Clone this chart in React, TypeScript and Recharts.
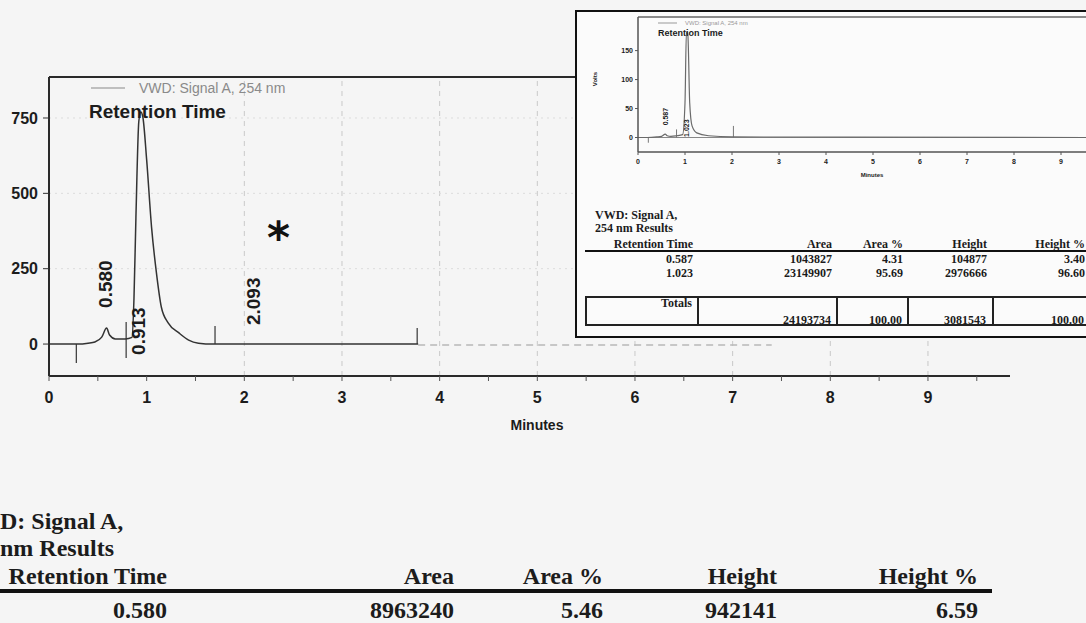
import React from "react";
import { ComposedChart, Line, Scatter, XAxis, YAxis, ReferenceLine } from "recharts";

// main chromatogram (minutes / signal)
const mainTime = [0, 0.3, 0.4, 0.47, 0.54, 0.59, 0.62, 0.68, 0.78, 0.85, 0.87, 0.89, 0.92, 0.94, 0.96, 1.0, 1.05, 1.1, 1.15, 1.22, 1.33, 1.43, 1.53, 1.68, 3.78];
const mainSignal = [0, 0, 3, 7, 23, 53, 30, 17, 17, 22, 150, 420, 740, 770, 755, 611, 388, 236, 123, 70, 37, 13, 3, 0, 0];
const tailTime = [3.78, 7.4];
const tailSignal = [-3, -3];

const peakNames = ["0.580", "0.913", "2.093"];
const peakLabelLevel = [120, -36, 63];
const noteTime = [2.35];
const noteLevel = [385];
const noteText = ["*"];

const markerTime = [0.28, 0.79, 1.7, 3.77];
const markerFrom = [0, 73, 0, 0];
const markerTo = [-63, -46, 60, 53];

const mainYTicks = [0, 250, 500, 750];
const mainXTicks = [0, 0.5, 1, 1.5, 2, 2.5, 3, 3.5, 4, 4.5, 5, 5.5, 6, 6.5, 7, 7.5, 8, 8.5, 9, 9.5];
const gridMinutes = [2, 3, 4, 5, 6, 7, 8, 9];
const gridLevels = [250, 500, 750];
const MAIN_X = [0, 9.84];
const MAIN_Y = [-106, 886];

// inset chromatogram
const insetTime = [0, 0.2, 0.4, 0.5, 0.58, 0.62, 0.7, 0.82, 0.95, 1.0, 1.03, 1.06, 1.1, 1.15, 1.25, 1.5, 2.0, 10];
const insetSignal = [0, 0, 1, 2, 6, 3, 2, 3, 5, 60, 182, 178, 60, 20, 8, 3, 1, 0];
const insetPeakNames = ["0.587", "1.023"];
const insetPeakLevel = [21, 1];
const insetMarkerTime = [0.22, 0.82, 2.03];
const insetMarkerTo = [-9, 14, 20];
const insetYTicks = [0, 50, 100, 150];
const insetXTicks = [0, 1, 2, 3, 4, 5, 6, 7, 8, 9];
const INSET_X = [0, 10];
const INSET_Y = [-25, 208];

// result tables
const resultHeaders = ["Retention Time", "Area", "Area %", "Height", "Height %"];
const mainRow = ["0.580", "8963240", "5.46", "942141", "6.59"];
const insetRows = [
  ["0.587", "1043827", "4.31", "104877", "3.40"],
  ["1.023", "23149907", "95.69", "2976666", "96.60"],
];
const insetTotals = ["24193734", "100.00", "3081543", "100.00"];

const mainData = mainTime.map((t, i) => ({ t, v: mainSignal[i] }));
const tailData = tailTime.map((t, i) => ({ t, v: tailSignal[i] }));
const peakData = peakNames.map((n, i) => ({ t: Number(n), v: peakLabelLevel[i], label: n }));
const noteData = noteTime.map((t, i) => ({ t, v: noteLevel[i], label: noteText[i] }));
const insetData = insetTime.map((t, i) => ({ t, v: insetSignal[i] }));
const insetPeakData = insetPeakNames.map((n, i) => ({ t: Number(n), v: insetPeakLevel[i], label: n }));

const SANS = "'Liberation Sans', Arial, sans-serif";
const SERIF = "'Liberation Serif', 'Times New Roman', serif";
const INK = "#1c1c1c";

const rotatedLabel = (size: number) => (props: any) => {
  const { cx, cy, payload } = props;
  return (
    <text x={cx} y={cy} dy="0.36em" transform={`rotate(-90 ${cx} ${cy})`} fontSize={size}
      fontWeight="bold" fontFamily={SANS} fill={INK}>
      {payload.label}
    </text>
  );
};

const noteShape = (props: any) => {
  const { cx, cy, payload } = props;
  return (
    <text x={cx} y={cy} dy={25} textAnchor="middle" fontSize={44} fontWeight="bold"
      fontFamily="'DejaVu Sans', sans-serif" fill="#111">
      {payload.label}
    </text>
  );
};

const Txt = ({ x, y, size, text, right, bold = true, family = SERIF, color = INK, center }: any) => {
  const style: React.CSSProperties = {
    position: "absolute", top: y - size / 2, fontSize: size, lineHeight: `${size}px`,
    fontFamily: family, fontWeight: bold ? "bold" : "normal", color, whiteSpace: "nowrap",
  };
  if (right) {
    style.left = x - 300; style.width = 300; style.textAlign = "right";
  } else if (center) {
    style.left = x - 150; style.width = 300; style.textAlign = "center";
  } else {
    style.left = x;
  }
  return <div style={style}>{text}</div>;
};

const mainCols = [167, 454, 603, 777, 978];
const insetCols = [693, 832, 903, 987, 1085];

function MainChart() {
  return (
    <div style={{ position: "absolute", left: 0, top: 0 }}>
      <ComposedChart width={1086} height={440} margin={{ top: 77, right: 76, bottom: 0, left: 0 }}>
        {gridMinutes.map((m) => (
          <ReferenceLine key={"gx" + m} x={m} stroke="#c9c9c9" strokeDasharray="5 5" />
        ))}
        {gridLevels.map((l) => (
          <ReferenceLine key={"gy" + l} y={l} stroke="#dcdcdc" strokeDasharray="2 4" />
        ))}
        <XAxis type="number" dataKey="t" domain={MAIN_X} allowDataOverflow ticks={mainXTicks}
          tickFormatter={(v: number) => (Number.isInteger(v) ? String(v) : "")}
          height={64} tickSize={5} tickMargin={11} interval={0}
          axisLine={{ stroke: "#2a2a2a", strokeWidth: 2 }} tickLine={{ stroke: "#555" }}
          tick={{ fill: INK, fontSize: 16, fontWeight: "bold", fontFamily: SANS }} />
        <YAxis type="number" domain={MAIN_Y} allowDataOverflow ticks={mainYTicks} width={49}
          tickSize={6} tickMargin={5} interval={0}
          axisLine={{ stroke: "#2a2a2a", strokeWidth: 2 }} tickLine={{ stroke: "#333" }}
          tick={{ fill: INK, fontSize: 16, fontWeight: "bold", fontFamily: SANS }} />
        <ReferenceLine y={MAIN_Y[1]} stroke="#2a2a2a" strokeWidth={2} />
        {markerTime.map((m, i) => (
          <ReferenceLine key={"mk" + i} segment={[{ x: m, y: markerFrom[i] }, { x: m, y: markerTo[i] }]}
            stroke="#444" strokeWidth={1.3} />
        ))}
        <Line data={tailData} dataKey="v" type="linear" stroke="#b8b8b8" strokeWidth={1.5}
          strokeDasharray="7 5" dot={false} isAnimationActive={false} />
        <Line data={mainData} dataKey="v" type="monotone" stroke="#333" strokeWidth={1.5}
          dot={false} isAnimationActive={false} />
        <Scatter data={peakData} dataKey="v" shape={rotatedLabel(19)} isAnimationActive={false} />
        <Scatter data={noteData} dataKey="v" shape={noteShape} isAnimationActive={false} />
      </ComposedChart>
      <svg style={{ position: "absolute", left: 0, top: 0 }} width={140} height={100}>
        <line x1={91} y1={88} x2={125} y2={88} stroke="#8a8a8a" strokeWidth={1.2} />
      </svg>
      <Txt x={139} y={88} size={14} text="VWD: Signal A, 254 nm" bold={false} family={SANS} color="#8a8a8a" />
      <Txt x={89} y={111} size={19} text="Retention Time" family={SANS} />
      <Txt x={537} y={425} size={14} text="Minutes" family={SANS} center />
    </div>
  );
}

function Inset() {
  return (
    <>
      <div style={{
        position: "absolute", left: 575, top: 10, width: 540, height: 328,
        border: "2px solid #111", boxSizing: "border-box", background: "#fbfbfb",
      }} />
      <div style={{ position: "absolute", left: 577, top: 12 }}>
        <ComposedChart width={531} height={180} margin={{ top: 5, right: 0, bottom: 0, left: 0 }}>
          <XAxis type="number" dataKey="t" domain={INSET_X} allowDataOverflow ticks={insetXTicks}
            height={40} tickSize={3} tickMargin={4} interval={0}
            axisLine={{ stroke: "#555", strokeWidth: 1.5 }} tickLine={{ stroke: "#555" }}
            tick={{ fill: INK, fontSize: 7, fontWeight: "bold", fontFamily: SANS }} />
          <YAxis type="number" domain={INSET_Y} allowDataOverflow ticks={insetYTicks} width={61}
            tickSize={3} tickMargin={2} interval={0}
            axisLine={{ stroke: "#555", strokeWidth: 1.5 }} tickLine={{ stroke: "#555" }}
            tick={{ fill: INK, fontSize: 7, fontWeight: "bold", fontFamily: SANS }} />
          <ReferenceLine y={INSET_Y[1]} stroke="#666" strokeWidth={1.5} />
          <ReferenceLine y={0} stroke="#888" strokeWidth={1} />
          {insetMarkerTime.map((m, i) => (
            <ReferenceLine key={"imk" + i} segment={[{ x: m, y: 0 }, { x: m, y: insetMarkerTo[i] }]}
              stroke="#777" strokeWidth={1} />
          ))}
          <Line data={insetData} dataKey="v" type="monotone" stroke="#6a6a6a" strokeWidth={1.2}
            dot={false} isAnimationActive={false} />
          <Scatter data={insetPeakData} dataKey="v" shape={rotatedLabel(7)} isAnimationActive={false} />
        </ComposedChart>
      </div>
      <svg style={{ position: "absolute", left: 0, top: 0 }} width={700} height={40}>
        <line x1={658} y1={23} x2={677} y2={23} stroke="#999" strokeWidth={1} />
      </svg>
      <Txt x={685} y={23} size={6} text="VWD: Signal A, 254 nm" bold={false} family={SANS} color="#999" />
      <Txt x={658} y={33} size={9} text="Retention Time" family={SANS} />
      <div style={{
        position: "absolute", left: 580, top: 76, fontSize: 6, fontWeight: "bold", fontFamily: SANS,
        color: INK, width: 30, textAlign: "center", transform: "rotate(-90deg)",
      }}>Volts</div>
      <Txt x={872} y={175} size={6} text="Minutes" family={SANS} center />

      <Txt x={595} y={215} size={12} text="VWD: Signal A," />
      <Txt x={595} y={228} size={12} text="254 nm Results" />
      {resultHeaders.map((h, i) => (
        <Txt key={"ih" + i} x={insetCols[i]} y={244} size={12} text={h} right />
      ))}
      <div style={{ position: "absolute", left: 585, top: 250, width: 520, height: 2, background: "#111" }} />
      {insetRows.map((row, r) =>
        row.map((c, i) => <Txt key={`ir${r}${i}`} x={insetCols[i]} y={259 + r * 14} size={12} text={c} right />)
      )}
      <div style={{
        position: "absolute", left: 585, top: 296, width: 520, height: 30,
        border: "2px solid #222", boxSizing: "border-box",
      }} />
      {[698, 837, 908, 993].map((x) => (
        <div key={"dv" + x} style={{ position: "absolute", left: x - 1, top: 296, width: 2, height: 30, background: "#222" }} />
      ))}
      <Txt x={692} y={303} size={12} text="Totals" right />
      {insetTotals.map((c, i) => (
        <Txt key={"it" + i} x={insetCols[i + 1] - 1} y={320} size={12} text={c} right />
      ))}
    </>
  );
}

function ResultsTable() {
  return (
    <>
      <Txt x={0} y={521} size={24} text="D: Signal A," />
      <Txt x={0} y={548} size={24} text="nm Results" />
      {resultHeaders.map((h, i) => (
        <Txt key={"mh" + i} x={mainCols[i]} y={576} size={24} text={h} right />
      ))}
      <div style={{ position: "absolute", left: 0, top: 589, width: 992, height: 4, background: "#111" }} />
      {mainRow.map((c, i) => (
        <Txt key={"mr" + i} x={mainCols[i]} y={610} size={24} text={c} right />
      ))}
    </>
  );
}

export default function App() {
  return (
    <div style={{
      position: "absolute", left: 0, top: 0, width: 1086, height: 623, overflow: "hidden",
      background: "#f5f5f5",
    }}>
      <MainChart />
      <Inset />
      <ResultsTable />
    </div>
  );
}
